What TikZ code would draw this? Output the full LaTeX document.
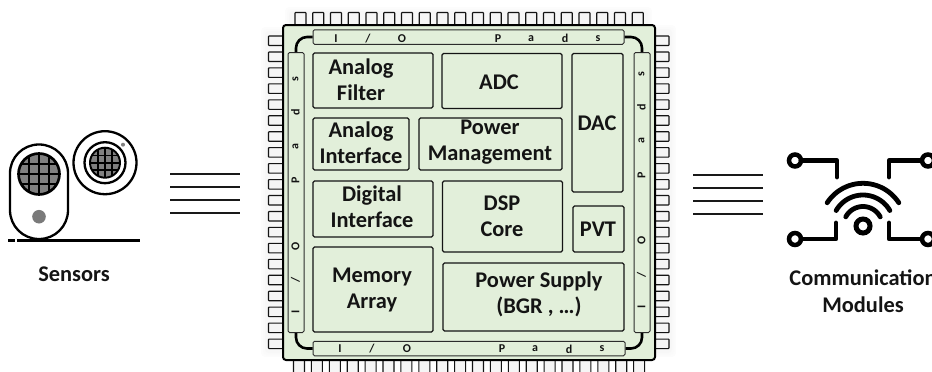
\documentclass[tikz,border=0pt]{standalone}
\usepackage{fontspec}
\setmainfont{Carlito}
\definecolor{chipgreen}{HTML}{E2EFDA}
\definecolor{ink}{HTML}{141414}
\tikzset{
  lbl/.style={font=\fontsize{22.4}{26}\selectfont\bfseries, text=ink, align=center, inner sep=0pt},
  caption/.style={font=\fontsize{22.4}{27}\selectfont\bfseries, text=ink, align=center, inner sep=0pt},
  tiny/.style={font=\fontsize{12}{12}\selectfont\bfseries, text=ink, inner sep=0pt},
  block/.style={draw=ink, line width=1.3pt, rounded corners=1.5pt, inner sep=0pt},
  bar/.style={draw=ink!90, line width=1pt, fill=chipgreen, rounded corners=1.5pt, inner sep=0pt},
  pin/.style={draw=ink, line width=1.1pt, fill=white!96!black, rounded corners=0.6pt},
  hookline/.style={line width=2.6pt, rounded corners=11pt, draw=black},
  wire/.style={line width=1.9pt, draw=black!90},
  sens/.style={line width=2.3pt, draw=black},
  comm/.style={line width=4.8pt, draw=black, line cap=round, line join=round}
}
\newcommand{\gridcircle}[3]{% cx cy r
  \fill[black!50] (#1,#2) circle[radius=#3pt];
  \begin{scope}
    \clip (#1,#2) circle[radius=#3pt];
    \foreach \k in {-1,0,1}{
      \draw[line width=#3*0.11pt,black] ({#1+\k*#3*0.47},{#2-#3}) -- ({#1+\k*#3*0.47},{#2+#3});
      \draw[line width=#3*0.11pt,black] ({#1-#3},{#2+\k*#3*0.47}) -- ({#1+#3},{#2+\k*#3*0.47});
    }
  \end{scope}
  \draw[line width=#3*0.13pt,black] (#1,#2) circle[radius=#3pt];
}
\begin{document}
\begin{tikzpicture}[x=1pt,y=-1pt]
\useasboundingbox (0,0) rectangle (932,372);
% soft glow behind the pins
\foreach \d/\c in {5/FCFCFC,3/FAFAFA,1/F7F7F7}{
  \definecolor{g}{HTML}{\c}
  \fill[g,rounded corners=4pt] (290-\d,12-\d) rectangle (647+\d,30);
  \fill[g,rounded corners=4pt] (266-\d,32-\d) rectangle (290,352+\d);
  \fill[g,rounded corners=4pt] (650,30-\d) rectangle (671+\d,352+\d);
}
% pins
\foreach \i in {0,...,19}{
  \draw[pin] ({295+\i*17.75},12.5) rectangle ({306+\i*17.75},25);
  \draw[pin] ({293.5+\i*17.9},360) rectangle ({304.5+\i*17.9},374);
  \draw[pin] (268.5,{36+\i*15.95}) rectangle (284,{45.5+\i*15.95});
  \draw[pin] (655,{36+\i*15.95}) rectangle (669,{45.5+\i*15.95});
}
% chip
\node[draw=black, line width=2pt, fill=chipgreen, rounded corners=3pt, minimum width=372pt, minimum height=335pt, inner sep=0pt] (chip) at (469,192.5) {};
% I/O bars
\node[bar, minimum width=311pt, minimum height=14.5pt] (barT) at (468.5,37) {};
\node[bar, minimum width=312pt, minimum height=14.5pt] (barB) at (469,348.5) {};
\node[bar, minimum width=16pt, minimum height=280pt] (barL) at (296,192.5) {};
\node[bar, minimum width=16pt, minimum height=280pt] (barR) at (642,192.5) {};
\draw[hookline] (barT.west) -| (barL.north);
\draw[hookline] (barB.west) -| (barL.south);
\draw[hookline] (barT.east) -| (barR.north);
\draw[hookline] (barB.east) -| (barR.south);
% bar letters
\foreach \t/\x/\n in {I/336/a,{/}/368/b,O/402/c,P/498/d,a/531/e,d/565/f,s/598/g}
  \node[tiny] (top\n) at (\x,38.5) {\t};
\foreach \t/\x/\n in {I/340/a,{/}/372/b,O/407/c,P/502/d,a/535/e,d/569/f,s/602/g}
  \node[tiny] (bot\n) at (\x,349) {\t};
\foreach \t/\y/\n in {I/312/a,{/}/280/b,O/246/c,P/180/d,a/147/e,d/112/f,s/79/g}
  \node[tiny, rotate=90] (lft\n) at (295.5,\y) {\t};
\foreach \t/\y/\n in {I/307/a,{/}/275/b,O/240/c,P/175/d,a/141/e,d/107/f,s/74/g}
  \node[tiny, rotate=90] (rgt\n) at (641.5,\y) {\t};
% blocks
\node[block, minimum width=120pt, minimum height=55pt] (af) at (373,80.5) {};
\node[block, minimum width=96pt, minimum height=52pt] (ai) at (361,144) {};
\node[block, minimum width=120pt, minimum height=56pt] (di) at (373,209) {};
\node[block, minimum width=120pt, minimum height=85pt] (ma) at (373,289.5) {};
\node[block, minimum width=120pt, minimum height=55pt] (adc) at (502,81) {};
\node[block, minimum width=143pt, minimum height=52pt] (pm) at (490.5,144) {};
\node[block, minimum width=51pt, minimum height=138.5pt] (dac) at (597.5,122.7) {};
\node[block, minimum width=120pt, minimum height=71pt] (dsp) at (502.5,216.5) {};
\node[block, minimum width=51pt, minimum height=46pt] (pvt) at (598.5,229) {};
\node[block, minimum width=181pt, minimum height=68pt] (ps) at (533.5,297) {};
% block labels
\node[lbl] (afT) at (361,80) {Analog\\Filter};
\node[lbl] (aiT) at (361,143) {Analog\\Interface};
\node[lbl] (diT) at (372,207) {Digital\\Interface};
\node[lbl] (maT) at (372,289.5) {Memory\\Array};
\node[lbl] (adcT) at (499,82) {ADC};
\node[lbl] (pmT) at (490,142.5) {Power\\Management};
\node[lbl] (dacT) at (597,123) {DAC};
\node[lbl] (dspT) at (502,216) {DSP\\Core};
\node[lbl] (pvtT) at (598,229) {PVT};
\node[lbl] (psT) at (539,294) {Power Supply\\(BGR , …)};
% bus lines
\foreach \y in {174,187,200,213} \draw[wire] (170,\y) -- (240,\y);
\foreach \y in {175,188,201,214} \draw[wire] (693,\y) -- (763,\y);
% sensors
\draw[sens, fill=white, rounded corners=28.8pt] (10,144.5) rectangle (68,239);
\gridcircle{39}{174}{20.5}
\fill[black!52] (39,216.7) circle[radius=6.8pt];
\draw[line width=3pt] (8,240) -- (15,240) (17,240) -- (140,240);
\draw[sens] (105,162.7) circle[radius=31.5pt];
\draw[sens] (105,162.7) circle[radius=20.5pt];
\gridcircle{105}{162.7}{15}
\fill[black!50] (123,144.7) circle[radius=2pt];
\node[caption] (sensors) at (74,274.5) {Sensors};
% communication icon
\draw[comm] (801,160.5) -- (837,160.5) -- (837,177);
\draw[comm] (921,160.5) -- (889,160.5) -- (889,177);
\draw[comm] (801,239) -- (836,239) -- (836,223);
\draw[comm] (921,239) -- (889,239) -- (889,223);
\foreach \p/\q in {795/160.5,928/160.5,795/239,928/239}
  \draw[line width=4.5pt] (\p,\q) circle[radius=6pt];
\draw[line width=5pt] (863,226) circle[radius=7pt];
\draw[comm] plot[smooth,samples=25,domain=33:147] ({863+42.7*cos(\x)},{226-42.7*sin(\x)});
\draw[comm] plot[smooth,samples=25,domain=30:150] ({863+31*cos(\x)},{226-31*sin(\x)});
\draw[comm] plot[smooth,samples=25,domain=28:152] ({863+19.5*cos(\x)},{226-19.5*sin(\x)});
\node[caption] (comms) at (863,291.5) {Communication\\Modules};
\end{tikzpicture}
\end{document}
